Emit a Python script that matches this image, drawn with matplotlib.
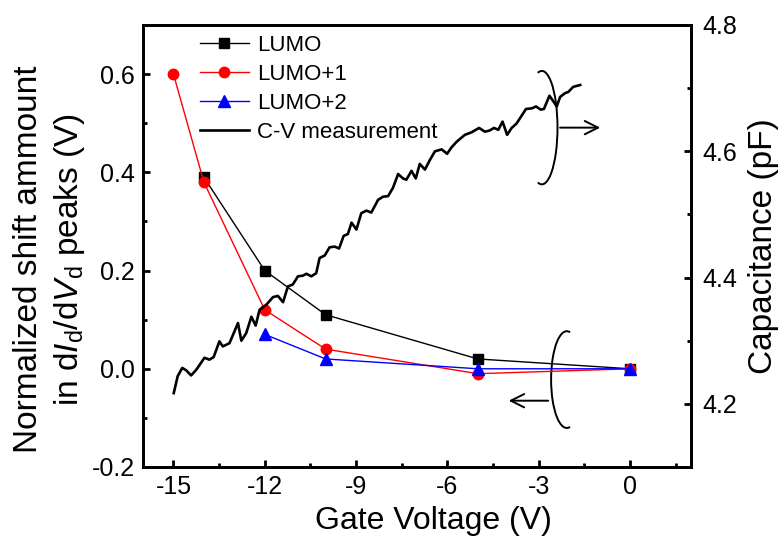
import matplotlib
matplotlib.use("Agg")
import matplotlib.pyplot as plt
from matplotlib.patches import Arc
from matplotlib.ticker import MultipleLocator
import numpy as np

plt.rcParams['font.family'] = ['Liberation Sans', 'DejaVu Sans']
plt.rcParams['mathtext.fontset'] = 'custom'
plt.rcParams['mathtext.rm'] = 'Liberation Sans'
plt.rcParams['mathtext.it'] = 'Liberation Sans:italic'

# ---- data ----
lumo_v = [-14, -12, -10, -5, 0]
lumo_y = [0.39, 0.20, 0.11, 0.02, 0.0]

lumo1_v = [-15, -14, -12, -10, -5, 0]
lumo1_y = [0.60, 0.38, 0.12, 0.04, -0.01, 0.0]

lumo2_v = [-12, -10, -5, 0]
lumo2_y = [0.07, 0.02, 0.0, 0.0]

cv_v = [-14.99, -14.86, -14.71, -14.58, -14.42, -14.25, -13.98, -13.82, -13.68, -13.49,
        -13.38, -13.16, -12.88, -12.77, -12.61, -12.44, -12.30, -12.17, -11.95, -11.73,
        -11.57, -11.40, -11.24, -11.08, -10.91, -10.75, -10.63, -10.47, -10.31, -10.20,
        -10.03, -9.87, -9.70, -9.56, -9.41, -9.27, -9.15, -8.99, -8.83, -8.66,
        -8.50, -8.28, -8.12, -7.95, -7.79, -7.62, -7.46, -7.35, -7.18, -7.04,
        -6.91, -6.74, -6.58, -6.41, -6.19, -6.01, -5.87, -5.70, -5.43, -5.21,
        -4.96, -4.77, -4.61, -4.47, -4.33, -4.19, -4.04, -3.89, -3.73, -3.42,
        -3.23, -3.09, -2.94, -2.83, -2.65, -2.52, -2.41, -2.30, -2.14, -2.03,
        -1.87, -1.64]
cv_c = [4.217, 4.244, 4.257, 4.253, 4.245, 4.254, 4.273, 4.270, 4.274, 4.299,
        4.291, 4.296, 4.328, 4.300, 4.312, 4.338, 4.324, 4.349, 4.357, 4.369,
        4.371, 4.361, 4.386, 4.389, 4.402, 4.403, 4.406, 4.402, 4.407, 4.431,
        4.435, 4.448, 4.449, 4.446, 4.466, 4.469, 4.487, 4.476, 4.502, 4.506,
        4.503, 4.523, 4.528, 4.529, 4.542, 4.564, 4.557, 4.555, 4.569, 4.557,
        4.580, 4.571, 4.586, 4.600, 4.603, 4.596, 4.606, 4.615, 4.626, 4.630,
        4.637, 4.631, 4.633, 4.637, 4.634, 4.647, 4.626, 4.637, 4.644, 4.667,
        4.668, 4.671, 4.666, 4.667, 4.688, 4.679, 4.671, 4.686, 4.692, 4.694,
        4.702, 4.705]

x_ticks = [-15, -12, -9, -6, -3, 0]
y_ticks = [-0.2, 0.0, 0.2, 0.4, 0.6]
y2_ticks = [4.2, 4.4, 4.6, 4.8]

# ---- figure ----
fig = plt.figure(figsize=(7.84, 5.44), dpi=100)
ax = fig.add_axes([143/784, 1-467/544, (691-143)/784, (467-25)/544])
ax2 = ax.twinx()

l1, = ax.plot(lumo_v, lumo_y, color='black', lw=1.0, marker='s', ms=7,
              mec='black', mfc='black', label='LUMO')
l2, = ax.plot(lumo1_v, lumo1_y, color='red', lw=1.0, marker='o', ms=7.5,
              mec='red', mfc='red', label='LUMO+1')
l3, = ax.plot(lumo2_v, lumo2_y, color='blue', lw=1.0, marker='^', ms=8,
              mec='blue', mfc='blue', label='LUMO+2')
l4, = ax2.plot(cv_v, cv_c, color='black', lw=1.9, label='C-V measurement')

ax.set_xlim(-16, 2)
ax.set_ylim(-0.2, 0.7)
ax2.set_ylim(4.1, 4.8)

ax.set_xticks(x_ticks)
ax.set_xticklabels([f"{t:d}" for t in x_ticks])
ax.set_yticks(y_ticks)
ax.set_yticklabels([f"{t:.1f}" for t in y_ticks])
ax2.set_yticks(y2_ticks)
ax2.set_yticklabels([f"{t:.1f}" for t in y2_ticks])
ax.xaxis.set_minor_locator(MultipleLocator(1.5))
ax.yaxis.set_minor_locator(MultipleLocator(0.1))
ax2.yaxis.set_minor_locator(MultipleLocator(0.1))

for a in (ax, ax2):
    for s in a.spines.values():
        s.set_linewidth(2.0)
ax.tick_params(axis='both', which='major', direction='in', length=5, width=2.0,
               labelsize=18, top=False, right=False)
ax.tick_params(axis='both', which='minor', direction='in', length=3, width=2.0,
               top=False, right=False)
ax.tick_params(axis='x', pad=6)
ax.tick_params(axis='y', pad=6)
ax2.tick_params(axis='y', which='major', direction='in', length=5, width=2.0,
                labelsize=18, pad=8)
ax2.tick_params(axis='y', which='minor', direction='in', length=3, width=2.0)

ax.set_xlabel('Gate Voltage (V)', fontsize=23)
ax.xaxis.set_label_coords(0.530, -0.088)
ax.set_ylabel('Normalized shift ammount\nin d$I_\\mathrm{d}$/d$V_\\mathrm{d}$ peaks (V)',
              fontsize=24, linespacing=1.3)
ax.yaxis.set_label_coords(-0.103, 0.47)
ax2.set_ylabel('Capacitance (pF)', fontsize=24, labelpad=8)

# annotations: ellipses with arrows
arc_r = Arc((-2.90, 0.491), 1.03, 0.231, theta1=-140, theta2=140, color='black', lw=1.4)
ax.add_patch(arc_r)
ax.annotate('', xy=(-0.89, 0.491), xytext=(-2.39, 0.491),
            arrowprops=dict(arrowstyle='->', color='black', lw=1.4, mutation_scale=24))
arc_l = Arc((-2.08, -0.022), 1.03, 0.197, theta1=42, theta2=318, color='black', lw=1.4)
ax.add_patch(arc_l)
ax.annotate('', xy=(-4.08, -0.065), xytext=(-2.60, -0.065),
            arrowprops=dict(arrowstyle='->', color='black', lw=1.4, mutation_scale=24))

leg = ax2.legend(handles=[l1, l2, l3, l4], loc='upper left',
                 bbox_to_anchor=(200/784, 1-35/544), bbox_transform=fig.transFigure,
                 frameon=False, fontsize=16, borderpad=0, borderaxespad=0,
                 handlelength=2.2, handletextpad=0.35, labelspacing=0.36)

fig.savefig('out.png', dpi=100)
